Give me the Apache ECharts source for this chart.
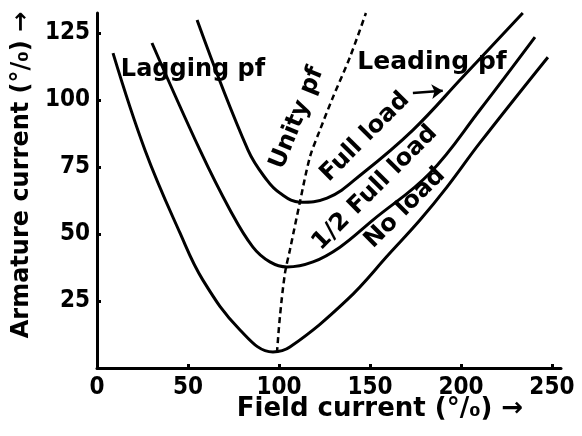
<!DOCTYPE html>
<html lang="en">
<head>
    <meta charset="UTF-8">
    <title>V curves</title>
    <script src="https://cdn.jsdelivr.net/npm/echarts@6/dist/echarts.min.js"></script>
    <style>
        html, body { margin: 0; padding: 0; background: #fff; }
    </style>
</head>
<body>
    <div id="main" style="width:582px; height: 436px;"></div>
    <script>
        // field current (%), armature current (%)
        var noLoad = [
            [8.8, 117.5], [26.4, 81.3], [45.6, 50.4], [58.2, 32.8], [78.6, 14.2],
            [96.7, 6.0], [106, 7.8], [137.4, 25.4], [161, 42.9], [177.5, 55.2],
            [192.3, 67.5], [210.4, 84], [247.8, 116]
        ];
        var halfLoad = [
            [30.2, 121.3], [56.6, 81.3], [73.1, 59], [85.7, 45.1], [95, 39.6],
            [104.4, 37.7], [118.7, 39.6], [133.5, 45.1], [151.6, 55.2], [183, 72.8],
            [210.4, 96.3], [240.7, 123.5]
        ];
        var fullLoad = [
            [55, 129.9], [83, 81.3], [93.4, 70.1], [100.5, 65.3], [111.5, 61.9],
            [126.4, 63.4], [146.2, 72.8], [173.6, 88.8], [201, 108.6], [234, 132.5]
        ];
        var unityPf = [
            [98.9, 5.6], [100.5, 19], [103.3, 35.4], [106, 44], [111.5, 61.9],
            [117, 78.7], [122.5, 88.8], [129.7, 101.1], [139, 116], [147.8, 132.5]
        ];
        var leadArrow = [[173.6, 102.6], [190, 103.5]];

        var font = "'DejaVu Sans', sans-serif";
        var tickFont = "'DejaVu Sans Condensed', sans-serif";

        function curve(name, data) {
            return {
                name: name,
                type: 'line',
                data: data,
                smooth: 0.4,
                symbol: 'none',
                lineStyle: { color: '#000', width: 3 }
            };
        }

        function label(text, x, y, deg, size) {
            return {
                type: 'text',
                x: x,
                y: y,
                rotation: deg * Math.PI / 180,
                style: {
                    text: text,
                    fill: '#000',
                    font: 'bold ' + size + 'px ' + font,
                    align: 'center',
                    verticalAlign: 'middle'
                }
            };
        }

        var fullSeries = curve('Full load', fullLoad);
        fullSeries.markLine = {
            silent: true,
            symbol: ['none', 'arrow'],
            symbolSize: 11,
            label: { show: false },
            lineStyle: { color: '#000', width: 2.5, type: 'solid' },
            data: [[{ coord: leadArrow[0] }, { coord: leadArrow[1] }]]
        };

        var option = {
            animation: false,
            backgroundColor: '#fff',
            grid: { left: 97, right: 21, top: 13, bottom: 68 },
            xAxis: {
                type: 'value',
                min: 0,
                max: 255,
                interval: 50,
                splitLine: { show: false },
                axisLine: { lineStyle: { color: '#000', width: 3 } },
                axisTick: { inside: true, length: 4, lineStyle: { color: '#000', width: 3 } },
                axisLabel: {
                    showMaxLabel: false,
                    margin: 8,
                    color: '#000',
                    fontWeight: 'bold',
                    fontSize: 24,
                    fontFamily: tickFont
                }
            },
            yAxis: {
                type: 'value',
                min: 0,
                max: 132.5,
                interval: 25,
                splitLine: { show: false },
                axisLine: { lineStyle: { color: '#000', width: 3 } },
                axisTick: { inside: true, length: 4, lineStyle: { color: '#000', width: 3 } },
                axisLabel: {
                    showMinLabel: false,
                    showMaxLabel: false,
                    margin: 7,
                    color: '#000',
                    fontWeight: 'bold',
                    fontSize: 24,
                    fontFamily: tickFont
                }
            },
            graphic: [
                label('Armature current (°/₀) →', 22, 175, 90, 24),
                label('Field current (°/₀) →', 380, 409, 0, 26),
                label('Lagging pf', 193, 70, 0, 24),
                label('Leading pf', 432, 62, 0, 25),
                label('Unity pf', 297, 118, 68, 24),
                label('Full load', 365, 137, 45, 24),
                label('1/2 Full load', 375, 188, 45, 24),
                label('No load', 405, 208, 45, 24)
            ],
            series: [
                curve('No load', noLoad),
                curve('1/2 Full load', halfLoad),
                fullSeries,
                {
                    name: 'Unity pf',
                    type: 'line',
                    data: unityPf,
                    smooth: 0.3,
                    symbol: 'none',
                    lineStyle: { color: '#000', width: 2.5, type: [6, 4] }
                }
            ]
        };
        echarts.init(document.getElementById('main')).setOption(option);
    </script>
</body>
</html>
